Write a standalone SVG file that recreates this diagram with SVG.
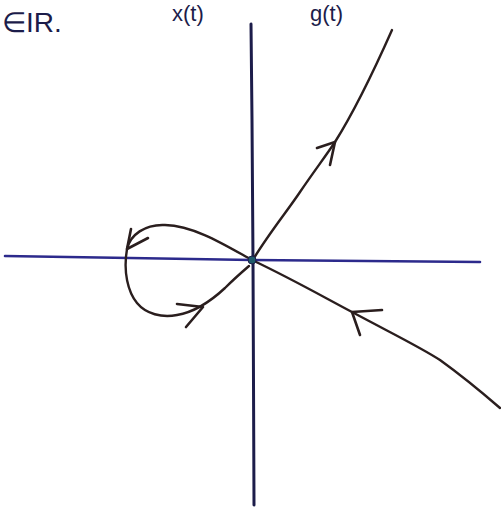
<svg xmlns="http://www.w3.org/2000/svg" width="501" height="507" viewBox="0 0 501 507">
<style>
.lbl{font-family:"Liberation Sans",Arial,sans-serif;fill:#1c1c4a;}
.axis{fill:none;stroke-linecap:round;}
.traj{fill:none;stroke:#2a1e1e;stroke-width:2.4;stroke-linecap:round;stroke-linejoin:round;}
.head{fill:none;stroke:#2a1e1e;stroke-width:2.6;stroke-linecap:round;stroke-linejoin:round;}
</style>
<rect width="501" height="507" fill="#ffffff"/>
<g id="labels">
<text class="lbl" x="2" y="32" font-size="28">∈IR.</text>
<text class="lbl" x="172" y="21" font-size="22">x(t)</text>
<text class="lbl" x="310" y="21" font-size="22">g(t)</text>
</g>
<g id="axes">
<path class="axis" d="M251 24 L252 120 L253 260 L254 505" stroke="#1c1c4a" stroke-width="3"/>
<path class="axis" d="M5 256 L130 258 L252 260 L480 262" stroke="#2c2a8c" stroke-width="2.6"/>
</g>
<g id="connectors">
<path class="traj" d="M254 258 C270 232 288 210 300 192 C315 170 325 157 335 142 C352 115 372 75 392 30"/>
<path class="head" d="M317 148 L335 142 L330 165"/>
<path class="traj" d="M500 408 C485 395 465 378 440 360 C420 347 395 335 352 312 C320 295 290 278 252 260"/>
<path class="head" d="M382 310 L352 312 L360 335"/>
<path class="traj" d="M252 260 C225 245 195 226 165 225 C145 224 130 235 127 249 C123 272 128 292 137 303 C146 314 162 318 177 315 C195 312 210 302 225 288 C235 278 242 272 249 266"/>
<path class="head" d="M131 229 L127 249 L148 238"/>
<path class="head" d="M177 304 L203 307 L186 327"/>
</g>
<g id="origin">
<circle cx="252" cy="260" r="4" fill="#1e5a6a" stroke="#1c1c4a" stroke-width="1"/>
</g>
</svg>
